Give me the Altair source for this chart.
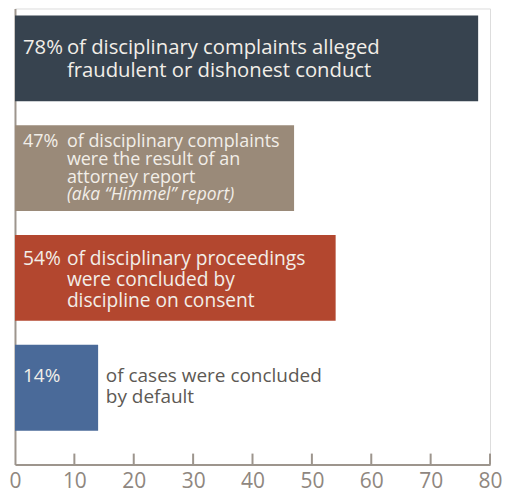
import altair as alt
import pandas as pd

# ---- data ----
categories = ["fraud", "himmel", "consent", "default"]
values = [78, 47, 54, 14]
pct_labels = ["78%", "47%", "54%", "14%"]
body_texts = [
    "of disciplinary complaints alleged\nfraudulent or dishonest conduct",
    "of disciplinary complaints\nwere the result of an\nattorney report",
    "of disciplinary proceedings\nwere concluded by\ndiscipline on consent",
    "of cases were concluded\nby default",
]
note_text = "(aka \u201cHimmel\u201d report)"
bar_colors = ["#37434f", "#9a8a79", "#b3472f", "#4a6a99"]
tick_values = [0, 10, 20, 30, 40, 50, 60, 70, 80]
tick_marks = [10, 20, 30, 40, 50, 60, 70, 80]

df = pd.DataFrame({
    "cat": categories,
    "value": values,
    "pct": pct_labels,
    "body": body_texts,
    "color": bar_colors,
})
note_df = pd.DataFrame({"cat": [categories[1]], "note": [note_text]})
ticks_df = pd.DataFrame({"t": tick_marks})

W, H = 476, 457
AXIS = "#9d958d"
FONT = "Open Sans"

yscale = alt.Scale(domain=categories, paddingInner=0.218, paddingOuter=0.186, align=0.17)
xscale = alt.Scale(domain=[0, 80], nice=False)

base = alt.Chart(df)

bars = base.mark_bar().encode(
    x=alt.X("value:Q", scale=xscale,
            axis=alt.Axis(values=tick_values, tickSize=0, labelPadding=6, labelFontSize=21,
                          labelFont=FONT, labelColor="#8f877f", domainColor=AXIS,
                          domainWidth=2, grid=False, title=None, labelFlush=False)),
    y=alt.Y("cat:N", scale=yscale,
            axis=alt.Axis(labels=False, ticks=False, title=None, domainColor=AXIS,
                          domainWidth=2, grid=False)),
    color=alt.Color("color:N", scale=None),
)

ticks = alt.Chart(ticks_df).mark_rule(color=AXIS, strokeWidth=2).encode(
    x=alt.X("t:Q", scale=xscale),
    y=alt.value(H - 11),
    y2=alt.value(H),
)

# per-bar text styling: (font size, first-line dy, line height, body x, text color)
styles = [
    (20.3, -4, 23, 52, "#f2eee8"),
    (18, -21, 18, 52, "#f2eee8"),
    (19.2, -13, 21, 52, "#f2eee8"),
    (19, -6, 21, 91, "#5d5954"),
]

layers = [bars, ticks]
for i, (fs, dy, lh, bx, col) in enumerate(styles):
    sub = base.transform_filter(alt.datum.cat == categories[i])
    layers.append(sub.mark_text(align="left", baseline="alphabetic", font=FONT, fontSize=fs,
                                dy=dy, color="#f2eee8").encode(
        x=alt.value(8), y=alt.Y("cat:N", scale=yscale), text="pct:N"))
    layers.append(sub.mark_text(align="left", baseline="alphabetic", font=FONT, fontSize=fs,
                                dy=dy, lineHeight=lh, lineBreak="\n", color=col).encode(
        x=alt.value(bx), y=alt.Y("cat:N", scale=yscale), text="body:N"))

note = alt.Chart(note_df).mark_text(align="left", baseline="alphabetic", font=FONT, fontSize=17.5,
                                    fontStyle="italic", dy=32, color="#f2eee8").encode(
    x=alt.value(52), y=alt.Y("cat:N", scale=yscale), text="note:N")
layers.append(note)

chart = alt.layer(*layers).properties(
    width=W, height=H,
    autosize=alt.AutoSizeParams(type="none"),
    padding={"left": 7, "top": 0, "right": 14, "bottom": 25},
).configure_view(stroke=None).configure(background="white")

chart.save("out.html", embed_options={"renderer": "svg", "actions": False})
